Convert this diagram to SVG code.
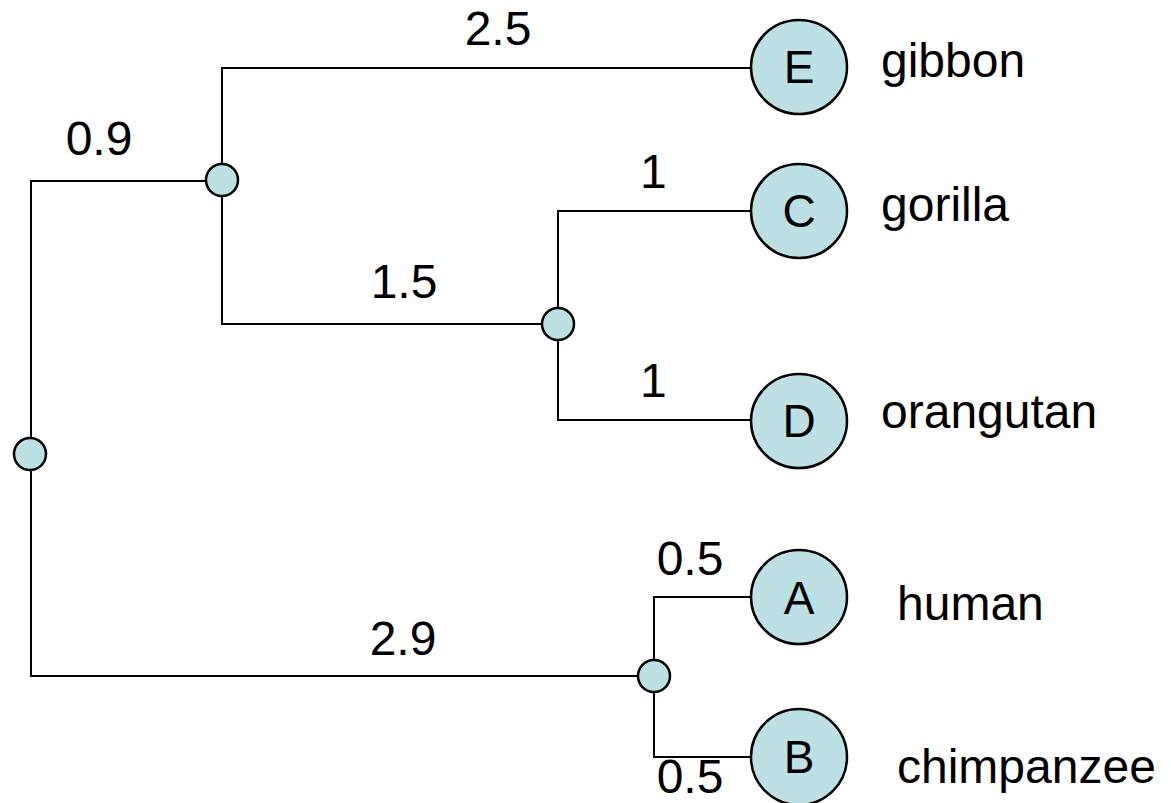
<svg xmlns="http://www.w3.org/2000/svg" width="1171" height="803" viewBox="0 0 1171 803">
  <style>
    .edge { fill: none; stroke: #000; stroke-width: 2; }
    .leaf { fill: #bce0e3; stroke: #000; stroke-width: 2.5; }
    .inner { fill: #bce0e3; stroke: #000; stroke-width: 2.5; }
    text { font-family: "Liberation Sans", Arial, sans-serif; fill: #000; }
    .len { font-size: 48px; text-anchor: middle; }
    .tag { font-size: 46px; text-anchor: middle; }
    .name { font-size: 48px; }
  </style>
  <rect width="1171" height="803" fill="#fff"/>

  <!-- tree branches -->
  <g id="connectors">
    <polyline class="edge" points="206,181 31,181 31,676 638,676"/>
    <polyline class="edge" points="751,68 222,68 222,324 542,324"/>
    <polyline class="edge" points="751,211 558,211 558,420 751,420"/>
    <polyline class="edge" points="751,597 654,597 654,757 751,757"/>
  </g>

  <!-- branch lengths -->
  <g id="branch-lengths">
    <text class="len" x="498" y="45">2.5</text>
    <text class="len" x="99" y="155">0.9</text>
    <text class="len" x="404" y="298">1.5</text>
    <text x="640" y="188" font-size="48">1</text>
    <text x="640" y="397" font-size="48">1</text>
    <text class="len" x="690" y="575">0.5</text>
    <text class="len" x="403" y="655">2.9</text>
    <text class="len" x="690" y="793">0.5</text>
  </g>

  <!-- internal nodes -->
  <g id="root"><circle class="inner" cx="30" cy="454" r="16"/></g>
  <g id="n-ape"><circle class="inner" cx="222" cy="180" r="16"/></g>
  <g id="n-cd"><circle class="inner" cx="558" cy="324" r="16"/></g>
  <g id="n-ab"><circle class="inner" cx="654" cy="676" r="16"/></g>

  <!-- leaves -->
  <g id="leaf-E">
    <ellipse class="leaf" cx="799" cy="67" rx="48" ry="47"/>
    <text class="tag" x="799" y="83">E</text>
  </g>
  <g id="leaf-C">
    <ellipse class="leaf" cx="799" cy="211" rx="48" ry="47"/>
    <text class="tag" x="799" y="227">C</text>
  </g>
  <g id="leaf-D">
    <ellipse class="leaf" cx="799" cy="421" rx="48" ry="47"/>
    <text class="tag" x="799" y="437">D</text>
  </g>
  <g id="leaf-A">
    <ellipse class="leaf" cx="799" cy="597" rx="48" ry="47"/>
    <text class="tag" x="799" y="614">A</text>
  </g>
  <g id="leaf-B">
    <ellipse class="leaf" cx="799" cy="757" rx="48" ry="48"/>
    <text class="tag" x="799" y="773">B</text>
  </g>

  <!-- species names -->
  <g id="species">
    <text class="name" x="881" y="77">gibbon</text>
    <text class="name" x="881" y="221">gorilla</text>
    <text class="name" x="881" y="428">orangutan</text>
    <text class="name" x="897" y="620">human</text>
    <text class="name" x="897" y="783">chimpanzee</text>
  </g>
</svg>
